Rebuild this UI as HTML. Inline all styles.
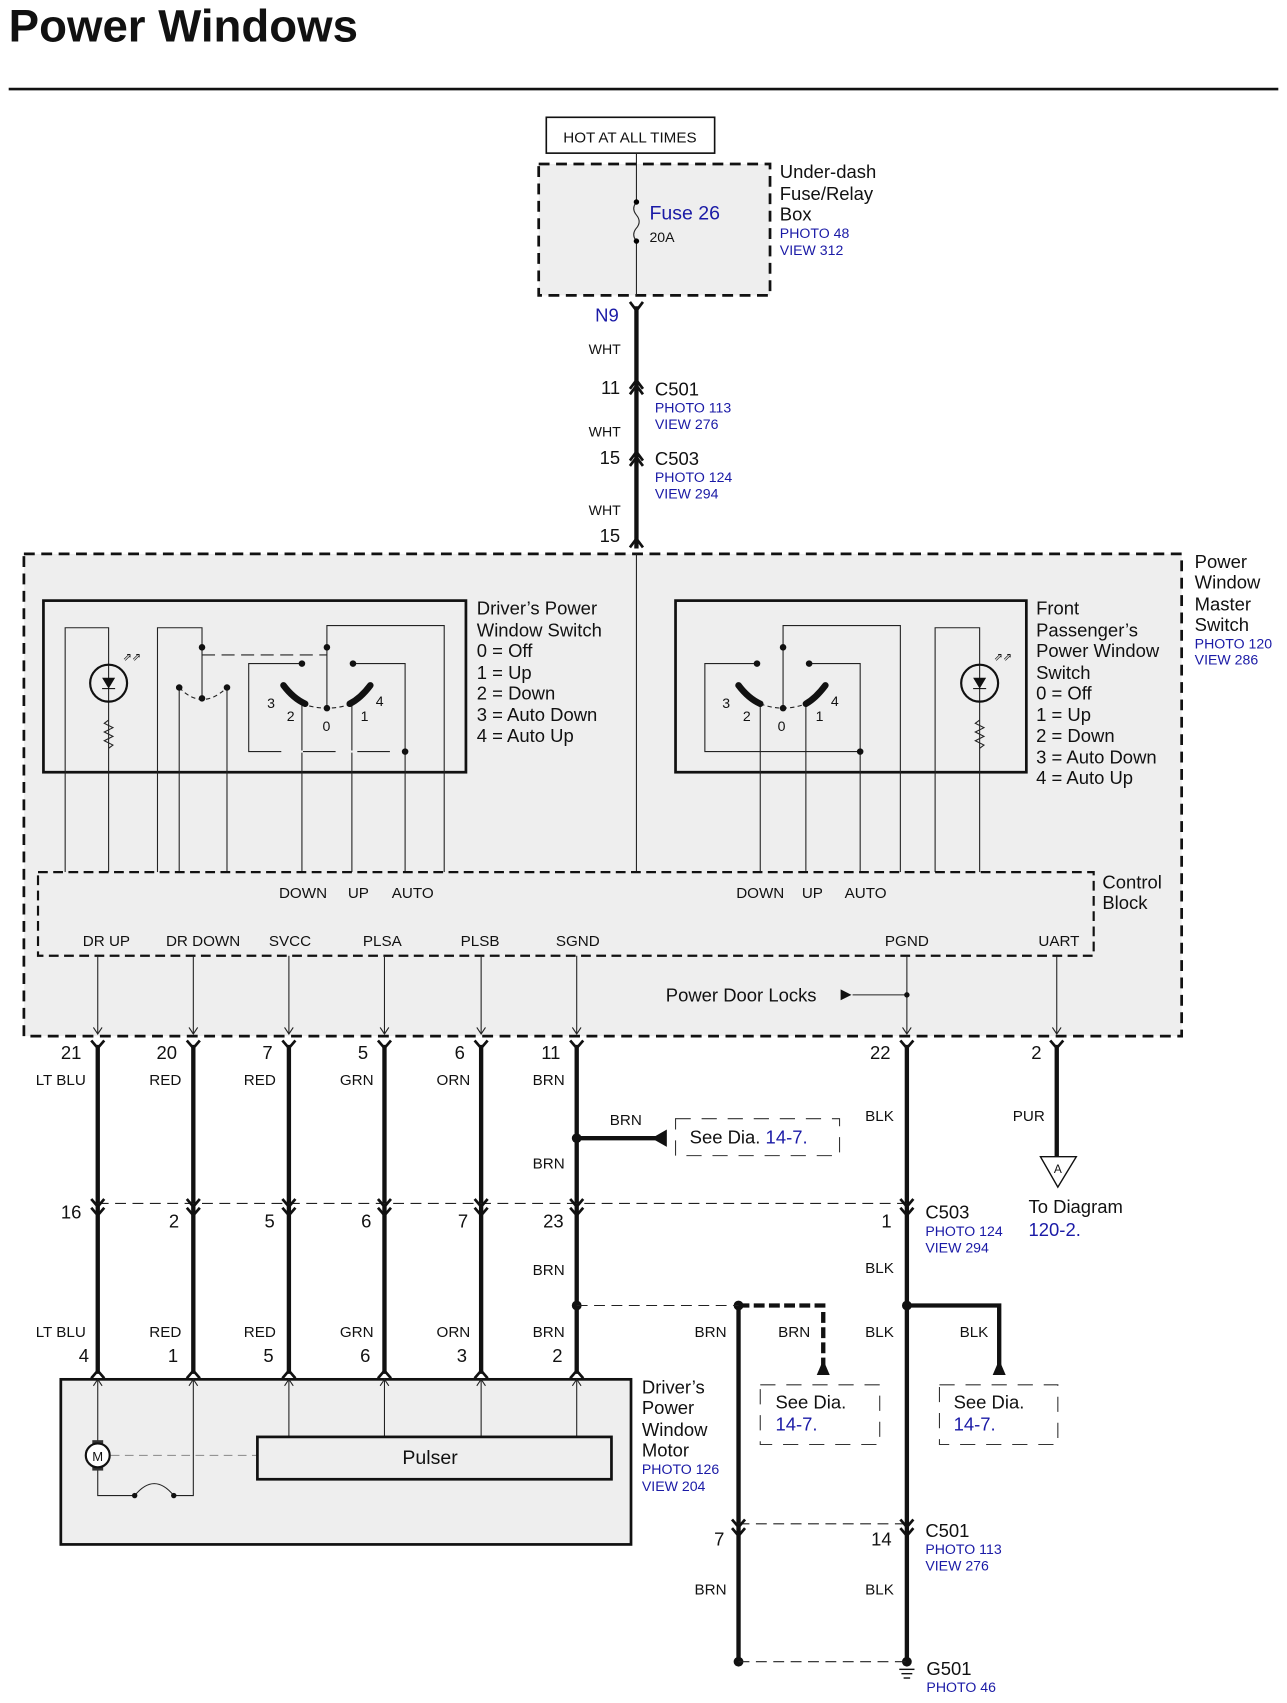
<!DOCTYPE html>
<html><head><meta charset="utf-8"><style>
html,body{margin:0;padding:0;background:#fff}
svg{display:block}
text{font-family:"Liberation Sans",Arial,sans-serif;fill:#111}
.s{font-size:13px}.m{font-size:17px}.b{fill:#1a1aa6}
.t{stroke:#222;stroke-width:1;fill:none}
.w{stroke:#111;stroke-width:4;fill:none}
.c{stroke:#111;stroke-width:2.5;fill:none}
</style></head><body>
<svg width="1287" height="1703" viewBox="0 0 1185 1568" preserveAspectRatio="none" xmlns="http://www.w3.org/2000/svg">
<text x="8" y="38" style="font-size:42px;font-weight:bold">Power Windows</text>
<line x1="8" y1="82" x2="1177" y2="82" stroke="#111" stroke-width="2.5"/>

<!-- top -->
<rect x="503" y="108" width="155" height="33" fill="#fff" stroke="#111" stroke-width="1.5"/>
<text x="580" y="131" class="s" text-anchor="middle" style="font-size:14px">HOT AT ALL TIMES</text>
<rect x="496" y="151" width="213" height="121" fill="#eee" stroke="#111" stroke-width="2.5" stroke-dasharray="10,6"/>
<text x="718" y="164" class="m">Under-dash</text><text x="718" y="184" class="m">Fuse/Relay</text><text x="718" y="203" class="m">Box</text>
<text x="718" y="219" class="s b">PHOTO 48</text><text x="718" y="235" class="s b">VIEW 312</text>
<line x1="586" y1="141" x2="586" y2="186" class="t"/><line x1="586" y1="222" x2="586" y2="272" class="t"/>
<path d="M586 186 q-5 6 0 12 q5 6 0 12 q-5 6 0 12" class="t"/>
<circle cx="586" cy="186" r="2.5"/><circle cx="586" cy="222" r="2.5"/>
<text x="598" y="202" class="b" style="font-size:18px">Fuse 26</text><text x="598" y="223" class="s">20A</text>
<line x1="586" y1="282" x2="586" y2="505" class="w"/>
<polyline points="580,278 586,286 592,278" class="c"/>
<polyline points="580,358 586,350 592,358" class="c"/><polyline points="580,363 586,355 592,363" class="c"/>
<polyline points="580,424 586,416 592,424" class="c"/><polyline points="580,429 586,421 592,429" class="c"/>
<polyline points="580,504 586,496 592,504" class="c"/>
<text x="548" y="296" class="b" style="font-size:17px">N9</text>
<text x="542" y="326" class="s">WHT</text>
<text x="571" y="363" class="m" text-anchor="end">11</text><text x="603" y="364" class="m">C501</text>
<text x="603" y="380" class="s b">PHOTO 113</text><text x="603" y="395" class="s b">VIEW 276</text>
<text x="542" y="402" class="s">WHT</text>
<text x="571" y="427" class="m" text-anchor="end">15</text><text x="603" y="428" class="m">C503</text>
<text x="603" y="444" class="s b">PHOTO 124</text><text x="603" y="459" class="s b">VIEW 294</text>
<text x="542" y="474" class="s">WHT</text>
<text x="571" y="499" class="m" text-anchor="end">15</text>

<!-- master switch -->
<rect x="22" y="510" width="1066" height="444" fill="#eee" stroke="#111" stroke-width="2.5" stroke-dasharray="10,6"/>
<text x="1100" y="523" class="m">Power</text><text x="1100" y="542" class="m">Window</text><text x="1100" y="562" class="m">Master</text><text x="1100" y="581" class="m">Switch</text>
<text x="1100" y="597" class="s b">PHOTO 120</text><text x="1100" y="612" class="s b">VIEW 286</text>
<line x1="586" y1="510" x2="586" y2="803" class="t"/>

<!-- driver switch -->
<rect x="40" y="553" width="389" height="158" fill="none" stroke="#111" stroke-width="2.5"/>
<text x="439" y="566" class="m">Driver’s Power</text><text x="439" y="586" class="m">Window Switch</text>
<text x="439" y="605" class="m">0 = Off</text><text x="439" y="625" class="m">1 = Up</text><text x="439" y="644" class="m">2 = Down</text>
<text x="439" y="664" class="m">3 = Auto Down</text><text x="439" y="683" class="m">4 = Auto Up</text>
<g class="t">
<polyline points="60,803 60,578 100,578 100,803"/>
<path d="M100 663 l-4 3 l8 4 l-8 4 l8 4 l-8 4 l8 4 l-4 3"/>
<polyline points="145,803 145,578 186,578 186,643"/>
<polyline points="165,803 165,633"/><polyline points="209,803 209,633"/>
<line x1="186" y1="603" x2="301" y2="603" stroke-dasharray="12,6"/>
<path d="M165 633 Q186 655 209 633" stroke-dasharray="4,3"/>
<polyline points="301,652 301,576 409,576 409,803"/>
<polyline points="278,611 229,611 229,692 373,692"/>
<polyline points="325,611 373,611 373,803"/>
<line x1="278" y1="648" x2="278" y2="803"/><line x1="324" y1="648" x2="324" y2="803"/>
<path d="M278 648 Q301 656 324 648" stroke-dasharray="4,3"/>
</g>
<line x1="229" y1="692" x2="373" y2="692" stroke="#eee" stroke-width="2" stroke-dasharray="0,30,20,0"/>
<circle cx="100" cy="629" r="17" fill="none" stroke="#111" stroke-width="2"/>
<polygon points="94,624 106,624 100,634" fill="#111"/><line x1="94" y1="634" x2="106" y2="634" stroke="#111"/>
<text x="113" y="608" class="s" style="font-size:10px">⇗⇗</text>
<g fill="#111"><circle cx="186" cy="596" r="3"/><circle cx="165" cy="633" r="3"/><circle cx="209" cy="633" r="3"/><circle cx="186" cy="643" r="3"/>
<circle cx="301" cy="596" r="3"/><circle cx="301" cy="652" r="3"/><circle cx="278" cy="611" r="3"/><circle cx="325" cy="611" r="3"/><circle cx="373" cy="692" r="3"/></g>
<path d="M261 631 Q270 643 281 648" stroke="#111" stroke-width="6" fill="none" stroke-linecap="round"/>
<path d="M341 631 Q332 643 322 648" stroke="#111" stroke-width="6" fill="none" stroke-linecap="round"/>
<text x="246" y="652" class="s">3</text><text x="264" y="664" class="s">2</text><text x="297" y="673" class="s">0</text><text x="332" y="664" class="s">1</text><text x="346" y="650" class="s">4</text>

<!-- passenger switch -->
<rect x="622" y="553" width="323" height="158" fill="none" stroke="#111" stroke-width="2.5"/>
<text x="954" y="566" class="m">Front</text><text x="954" y="586" class="m">Passenger’s</text><text x="954" y="605" class="m">Power Window</text>
<text x="954" y="625" class="m">Switch</text><text x="954" y="644" class="m">0 = Off</text><text x="954" y="664" class="m">1 = Up</text>
<text x="954" y="683" class="m">2 = Down</text><text x="954" y="703" class="m">3 = Auto Down</text><text x="954" y="722" class="m">4 = Auto Up</text>
<g class="t">
<polyline points="697,611 649,611 649,692 792,692"/>
<polyline points="745,611 792,611 792,803"/>
<polyline points="721,652 721,576 829,576 829,803"/>
<line x1="700" y1="648" x2="700" y2="803"/><line x1="742" y1="648" x2="742" y2="803"/>
<path d="M700 648 Q721 656 742 648" stroke-dasharray="4,3"/>
<polyline points="861,803 861,578 902,578 902,803"/>
<path d="M902 663 l-4 3 l8 4 l-8 4 l8 4 l-8 4 l8 4 l-4 3"/>
</g>
<circle cx="902" cy="629" r="17" fill="none" stroke="#111" stroke-width="2"/>
<polygon points="896,624 908,624 902,634" fill="#111"/><line x1="896" y1="634" x2="908" y2="634" stroke="#111"/>
<text x="915" y="608" class="s" style="font-size:10px">⇗⇗</text>
<g fill="#111"><circle cx="721" cy="596" r="3"/><circle cx="721" cy="652" r="3"/><circle cx="697" cy="611" r="3"/><circle cx="745" cy="611" r="3"/><circle cx="792" cy="692" r="3"/></g>
<path d="M680 631 Q689 643 700 648" stroke="#111" stroke-width="6" fill="none" stroke-linecap="round"/>
<path d="M760 631 Q751 643 742 648" stroke="#111" stroke-width="6" fill="none" stroke-linecap="round"/>
<text x="665" y="652" class="s">3</text><text x="684" y="664" class="s">2</text><text x="716" y="673" class="s">0</text><text x="751" y="664" class="s">1</text><text x="765" y="650" class="s">4</text>

<!-- control block -->
<rect x="35" y="803" width="972" height="77" fill="#eee" stroke="#111" stroke-width="2" stroke-dasharray="9,5"/>
<text x="1015" y="818" class="m">Control</text><text x="1015" y="837" class="m">Block</text>
<g class="s" text-anchor="middle" style="font-size:14px">
<text x="279" y="827">DOWN</text><text x="330" y="827">UP</text><text x="380" y="827">AUTO</text>
<text x="700" y="827">DOWN</text><text x="748" y="827">UP</text><text x="797" y="827">AUTO</text>
<text x="98" y="871">DR UP</text><text x="187" y="871">DR DOWN</text><text x="267" y="871">SVCC</text><text x="352" y="871">PLSA</text>
<text x="442" y="871">PLSB</text><text x="532" y="871">SGND</text><text x="835" y="871">PGND</text><text x="975" y="871">UART</text>
</g>
<g class="t">
<line x1="90" y1="880" x2="90" y2="952"/><line x1="178" y1="880" x2="178" y2="952"/><line x1="266" y1="880" x2="266" y2="952"/>
<line x1="354" y1="880" x2="354" y2="952"/><line x1="443" y1="880" x2="443" y2="952"/><line x1="531" y1="880" x2="531" y2="952"/>
<line x1="835" y1="880" x2="835" y2="952"/><line x1="973" y1="880" x2="973" y2="952"/>
<line x1="785" y1="916" x2="835" y2="916"/>
<path d="M86 946 l4 6 l4 -6 M174 946 l4 6 l4 -6 M262 946 l4 6 l4 -6 M350 946 l4 6 l4 -6 M439 946 l4 6 l4 -6 M527 946 l4 6 l4 -6 M831 946 l4 6 l4 -6 M969 946 l4 6 l4 -6"/>
</g>
<text x="613" y="922" class="m">Power Door Locks</text>
<polygon points="774,911 784,916 774,921" fill="#111"/><circle cx="835" cy="916" r="2.5" fill="#111"/>

<!-- bottom wires -->
<g class="w">
<line x1="90" y1="962" x2="90" y2="1265"/><line x1="178" y1="962" x2="178" y2="1265"/><line x1="266" y1="962" x2="266" y2="1265"/>
<line x1="354" y1="962" x2="354" y2="1265"/><line x1="443" y1="962" x2="443" y2="1265"/><line x1="531" y1="962" x2="531" y2="1265"/>
<line x1="835" y1="962" x2="835" y2="1532"/><line x1="973" y1="962" x2="973" y2="1065"/>
<line x1="531" y1="1048" x2="605" y2="1048"/>
<line x1="680" y1="1202" x2="680" y2="1530"/>
<polyline points="835,1202 920,1202 920,1258"/>
</g>
<polyline points="680,1202 758,1202 758,1258" stroke="#111" stroke-width="4" fill="none" stroke-dasharray="10,4"/>
<polygon points="600,1048 614,1040 614,1056" fill="#111"/>
<polygon points="758,1252 752,1266 764,1266" fill="#111"/><polygon points="920,1252 914,1266 926,1266" fill="#111"/>
<g fill="#111"><circle cx="531" cy="1048" r="4.5"/><circle cx="531" cy="1202" r="4.5"/><circle cx="680" cy="1202" r="4.5"/><circle cx="835" cy="1202" r="4.5"/><circle cx="680" cy="1530" r="4.5"/><circle cx="835" cy="1530" r="4.5"/></g>
<g class="t" stroke-dasharray="10,6">
<line x1="90" y1="1108" x2="835" y2="1108"/><line x1="531" y1="1202" x2="680" y2="1202"/>
<line x1="680" y1="1403" x2="835" y2="1403"/><line x1="680" y1="1530" x2="835" y2="1530"/>
</g>
<!-- connector glyphs -->
<g class="c">
<path d="M84 958 l6 7 l6 -7 M172 958 l6 7 l6 -7 M260 958 l6 7 l6 -7 M348 958 l6 7 l6 -7 M437 958 l6 7 l6 -7 M525 958 l6 7 l6 -7 M829 958 l6 7 l6 -7 M967 958 l6 7 l6 -7"/>
<path d="M84 1104 l6 7 l6 -7 M84 1112 l6 7 l6 -7 M172 1104 l6 7 l6 -7 M172 1112 l6 7 l6 -7 M260 1104 l6 7 l6 -7 M260 1112 l6 7 l6 -7 M348 1104 l6 7 l6 -7 M348 1112 l6 7 l6 -7 M437 1104 l6 7 l6 -7 M437 1112 l6 7 l6 -7 M525 1104 l6 7 l6 -7 M525 1112 l6 7 l6 -7 M829 1104 l6 7 l6 -7 M829 1112 l6 7 l6 -7"/>
<path d="M84 1269 l6 -7 l6 7 M172 1269 l6 -7 l6 7 M260 1269 l6 -7 l6 7 M348 1269 l6 -7 l6 7 M437 1269 l6 -7 l6 7 M525 1269 l6 -7 l6 7"/>
<path d="M674 1399 l6 7 l6 -7 M674 1407 l6 7 l6 -7 M829 1399 l6 7 l6 -7 M829 1407 l6 7 l6 -7"/>
</g>
<!-- ground -->
<g stroke="#111" stroke-width="1.3"><line x1="828" y1="1537" x2="842" y2="1537"/><line x1="830" y1="1541" x2="840" y2="1541"/><line x1="832" y1="1545" x2="838" y2="1545"/></g>
<!-- UART triangle -->
<polygon points="958,1065 991,1065 974,1093" fill="#fff" stroke="#111" stroke-width="1.3"/>
<text x="974" y="1080" class="s" text-anchor="middle" style="font-size:11px">A</text>

<g class="m" text-anchor="end">
<text x="75" y="975">21</text><text x="163" y="975">20</text><text x="251" y="975">7</text><text x="339" y="975">5</text>
<text x="428" y="975">6</text><text x="516" y="975">11</text><text x="820" y="975">22</text><text x="959" y="975">2</text>
<text x="75" y="1122">16</text><text x="165" y="1130">2</text><text x="253" y="1130">5</text><text x="342" y="1130">6</text>
<text x="431" y="1130">7</text><text x="519" y="1130">23</text><text x="821" y="1130">1</text>
<text x="82" y="1254">4</text><text x="164" y="1254">1</text><text x="252" y="1254">5</text><text x="341" y="1254">6</text>
<text x="430" y="1254">3</text><text x="518" y="1254">2</text>
<text x="667" y="1423">7</text><text x="821" y="1423">14</text>
</g>
<g class="s" text-anchor="end" style="font-size:14px">
<text x="79" y="999">LT BLU</text><text x="167" y="999">RED</text><text x="254" y="999">RED</text><text x="344" y="999">GRN</text>
<text x="433" y="999">ORN</text><text x="520" y="999">BRN</text>
<text x="79" y="1231">LT BLU</text><text x="167" y="1231">RED</text><text x="254" y="1231">RED</text><text x="344" y="1231">GRN</text>
<text x="433" y="1231">ORN</text><text x="520" y="1231">BRN</text><text x="669" y="1231">BRN</text><text x="746" y="1231">BRN</text>
<text x="823" y="1231">BLK</text><text x="910" y="1231">BLK</text>
<text x="520" y="1076">BRN</text><text x="591" y="1036">BRN</text><text x="823" y="1032">BLK</text><text x="962" y="1032">PUR</text>
<text x="520" y="1174">BRN</text><text x="823" y="1172">BLK</text>
<text x="669" y="1468">BRN</text><text x="823" y="1468">BLK</text>
</g>
<!-- see dia boxes -->
<rect x="622" y="1030" width="151" height="34" fill="none" stroke="#333" stroke-dasharray="14,10"/>
<text x="635" y="1053" class="m">See Dia. <tspan class="b">14-7.</tspan></text>
<rect x="700" y="1275" width="110" height="55" fill="none" stroke="#333" stroke-dasharray="14,10"/>
<text x="714" y="1297" class="m">See Dia.</text><text x="714" y="1317" class="m b">14-7.</text>
<rect x="865" y="1275" width="109" height="55" fill="none" stroke="#333" stroke-dasharray="14,10"/>
<text x="878" y="1297" class="m">See Dia.</text><text x="878" y="1317" class="m b">14-7.</text>
<text x="852" y="1122" class="m">C503</text><text x="852" y="1138" class="s b">PHOTO 124</text><text x="852" y="1153" class="s b">VIEW 294</text>
<text x="947" y="1117" class="m">To Diagram</text><text x="947" y="1138" class="m b">120-2.</text>
<text x="852" y="1415" class="m">C501</text><text x="852" y="1431" class="s b">PHOTO 113</text><text x="852" y="1446" class="s b">VIEW 276</text>
<text x="853" y="1542" class="m">G501</text><text x="853" y="1558" class="s b">PHOTO 46</text>

<!-- motor -->
<rect x="56" y="1270" width="525" height="152" fill="#eee" stroke="#111" stroke-width="2.5"/>
<text x="591" y="1283" class="m">Driver’s</text><text x="591" y="1302" class="m">Power</text><text x="591" y="1322" class="m">Window</text><text x="591" y="1341" class="m">Motor</text>
<text x="591" y="1357" class="s b">PHOTO 126</text><text x="591" y="1373" class="s b">VIEW 204</text>
<g class="t">
<polyline points="90,1270 90,1328"/><polyline points="90,1352 90,1377 124,1377"/>
<polyline points="160,1377 178,1377 178,1270"/>
<path d="M124 1377 Q142 1355 160 1377"/>
<line x1="266" y1="1270" x2="266" y2="1323"/><line x1="354" y1="1270" x2="354" y2="1323"/>
<line x1="443" y1="1270" x2="443" y2="1323"/><line x1="531" y1="1270" x2="531" y2="1323"/>
<line x1="102" y1="1340" x2="237" y2="1340" stroke="#888" stroke-dasharray="8,5"/>
<path d="M86 1276 l4 -6 l4 6 M174 1276 l4 -6 l4 6 M262 1276 l4 -6 l4 6 M350 1276 l4 -6 l4 6 M439 1276 l4 -6 l4 6 M527 1276 l4 -6 l4 6"/>
</g>
<g fill="#111"><circle cx="124" cy="1377" r="2.5"/><circle cx="160" cy="1377" r="2.5"/></g>
<rect x="85" y="1326" width="10" height="28" fill="#333"/>
<circle cx="90" cy="1340" r="11" fill="#fff" stroke="#111" stroke-width="2"/>
<text x="90" y="1345" class="s" text-anchor="middle" style="font-size:12px">M</text>
<rect x="237" y="1323" width="326" height="39" fill="none" stroke="#111" stroke-width="2.5"/>
<text x="396" y="1348" class="m" text-anchor="middle" style="font-size:18px">Pulser</text>
</svg>
</body></html>
